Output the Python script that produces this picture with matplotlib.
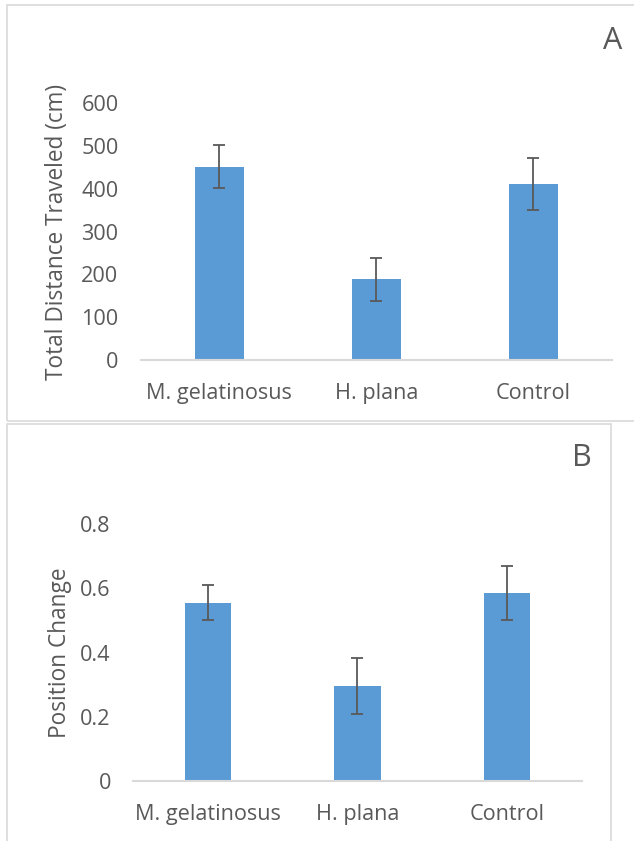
import matplotlib
matplotlib.use("Agg")
import matplotlib.pyplot as plt
from matplotlib.patches import Rectangle

plt.rcParams['font.family'] = ['Open Sans', 'DejaVu Sans']

categories = ["M. gelatinosus", "H. plana", "Control"]
distance_mean = [451, 188, 411]
distance_err = [50, 50, 61]
position_mean = [0.555, 0.295, 0.585]
position_err = [0.055, 0.087, 0.084]
yticks_a = [0, 100, 200, 300, 400, 500, 600]
yticks_b = [0, 0.2, 0.4, 0.6, 0.8]
ytick_labels_b = ["0", "0.2", "0.4", "0.6", "0.8"]

W, H = 634, 841
fig = plt.figure(figsize=(W / 100, H / 100), dpi=100)

BAR = "#5B9BD5"
ERR = "#595959"
TXT = "#595959"
GRID = "#D9D9D9"

def frame(x0, y0, x1, y1):
    fig.patches.append(Rectangle((x0 / W, 1 - y1 / H), (x1 - x0) / W, (y1 - y0) / H,
                                 transform=fig.transFigure, fill=False,
                                 edgecolor=GRID, linewidth=1.2, zorder=0))

frame(7, 5, 640, 421)
frame(7, 424, 611, 850)

def make_axes(left, right, top, bottom):
    return fig.add_axes([left / W, 1 - bottom / H, (right - left) / W, (bottom - top) / H])

def style(ax, ylabel, ticks, ticklabels, ylim, label_x):
    x = range(len(categories))
    ax.set_xlim(-0.5, len(categories) - 0.5)
    ax.set_ylim(*ylim)
    ax.set_yticks(ticks)
    ax.set_yticklabels(ticklabels)
    ax.set_xticks(list(x))
    ax.set_xticklabels(categories)
    for s in ["top", "right", "left"]:
        ax.spines[s].set_visible(False)
    ax.spines["bottom"].set_color(GRID)
    ax.spines["bottom"].set_linewidth(1.5)
    ax.tick_params(axis="y", length=0, pad=16, labelsize=15.6, labelcolor=TXT)
    ax.tick_params(axis="x", length=0, pad=16.5, labelsize=15.6, labelcolor=TXT)
    ax.set_ylabel(ylabel, fontsize=16.3, color=TXT)
    ax.yaxis.set_label_coords(label_x, 0.5)
    ax.patch.set_alpha(0)

xs = list(range(len(categories)))

# Panel A
axA = make_axes(140.7, 611.7, 103, 360)
axA.bar(xs, distance_mean, width=0.314, color=BAR, zorder=2)
axA.errorbar(xs, distance_mean, yerr=distance_err, fmt="none", ecolor=ERR,
             elinewidth=1.3, capsize=4.2, capthick=1.3, zorder=3)
style(axA, "Total Distance Traveled (cm)", yticks_a, [str(t) for t in yticks_a], (0, 600),
      (69 - 140.7) / 471)
fig.text(613 / W, 1 - 41 / H, "A", fontsize=22, color=TXT, ha="center", va="center")

# Panel B
axB = make_axes(133, 581.7, 524, 781.3)
axB.bar(xs, position_mean, width=0.31, color=BAR, zorder=2)
axB.errorbar(xs, position_mean, yerr=position_err, fmt="none", ecolor=ERR,
             elinewidth=1.3, capsize=4.2, capthick=1.3, zorder=3)
style(axB, "Position Change", yticks_b, ytick_labels_b, (0, 0.8),
      (72 - 133) / 448.7)
fig.text(582 / W, 1 - 458 / H, "B", fontsize=22, color=TXT, ha="center", va="center")

fig.savefig("out.png", dpi=100, facecolor="white")
